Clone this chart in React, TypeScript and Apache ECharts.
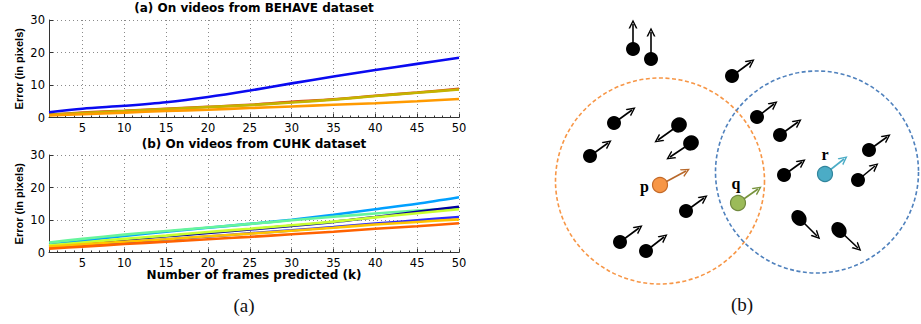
import React, { useEffect, useRef } from "react";
import * as echarts from "echarts";

// ---- chart data ----
const FRAMES = [1, 5, 10, 15, 20, 25, 30, 35, 40, 45, 50];

const BEHAVE_NAMES = ["m1", "m2", "m3", "m4"];
const BEHAVE_COLORS = ["#d8461c", "#c4b400", "#ff9a00", "#0a0af0"];
const BEHAVE_VALUES = [
  [0.9, 1.5, 2.1, 2.7, 3.3, 3.9, 4.8, 5.6, 6.7, 7.7, 8.8],
  [0.8, 1.4, 2.0, 2.6, 3.2, 3.8, 4.6, 5.5, 6.6, 7.6, 8.6],
  [0.6, 1.0, 1.5, 2.0, 2.4, 2.9, 3.4, 3.9, 4.4, 5.0, 5.7],
  [1.6, 2.7, 3.6, 4.7, 6.3, 8.3, 10.5, 12.6, 14.6, 16.5, 18.4],
];

const CUHK_NAMES = ["c1", "c2", "c3", "c4", "c5", "c6", "c7"];
const CUHK_COLORS = ["#00a0ff", "#66f59c", "#0000a0", "#c8ff30", "#2a2aff", "#ffc400", "#ff6200"];
const CUHK_VALUES = [
  [2.4, 3.6, 5.1, 6.4, 7.6, 8.8, 10.1, 11.6, 13.3, 15.0, 17.0],
  [3.1, 4.2, 5.5, 6.6, 7.7, 8.8, 9.9, 11.0, 12.0, 12.9, 13.6],
  [1.8, 2.7, 3.9, 5.0, 6.0, 7.1, 8.2, 9.4, 10.9, 12.5, 14.1],
  [2.2, 3.1, 4.2, 5.2, 6.3, 7.3, 8.4, 9.5, 10.8, 12.1, 13.3],
  [1.5, 2.2, 3.1, 4.0, 4.9, 5.9, 6.8, 7.8, 8.9, 9.9, 10.9],
  [1.8, 2.5, 3.3, 4.1, 5.0, 5.8, 6.7, 7.6, 8.6, 9.4, 10.2],
  [1.2, 1.8, 2.6, 3.3, 4.1, 4.8, 5.6, 6.4, 7.3, 8.1, 9.0],
];

const TITLE_A = "(a) On videos from BEHAVE dataset";
const TITLE_B = "(b) On videos from CUHK dataset";
const Y_NAME = "Error (in pixels)";
const X_NAME = "Number of frames predicted (k)";

// ---- diagram data (page coordinates) ----
const BLACK_DOTS = [
  [633, 49], [651, 59], [732, 76], [614, 123], [679, 125], [691, 143],
  [590, 156], [757, 117], [780, 135], [869, 150], [784, 175], [858, 180],
  [686, 211], [620, 242], [646, 251], [799, 218], [839, 230],
];
const BLACK_TIPS = [
  [633, 24], [651, 32], [751, 62], [632, 110], [658, 140], [670, 157],
  [608, 143], [774, 104], [798, 122], [887, 137], [802, 162], [875, 166],
  [704, 198], [639, 228], [664, 237], [817, 236], [858, 248],
];
const BLACK_SIZES = [
  [14, 14], [14, 14], [14, 14], [14, 14], [16, 15], [16, 15],
  [14, 14], [14, 14], [14, 14], [14, 14], [14, 14], [14, 14],
  [14, 14], [14, 14], [14, 14], [14, 17], [14, 17],
];
const BLACK_ROT = [0, 0, 0, 0, 30, 30, 0, 0, 0, 0, 0, 0, 0, 0, 0, 40, 40];

const SPECIAL_LABELS = ["p", "q", "r"];
const SPECIAL_DOTS = [[660, 185], [738, 203], [825, 174]];
const SPECIAL_TIPS = [[686, 171], [758, 189], [844, 159]];
const SPECIAL_FILL = ["#f79646", "#9bbb59", "#4bacc6"];
const SPECIAL_EDGE = ["#c46a28", "#71893f", "#31859c"];
const SPECIAL_ARROW = ["#b8682a", "#77933c", "#4bacc6"];

const CIRCLE_CENTERS = [[660, 181], [817, 172]];
const CIRCLE_SIZES = [[209, 206], [203, 202]];
const CIRCLE_COLORS = ["#f79646", "#4f81bd"];

const CAPTIONS = ["(a)", "(b)"];

const CHEVRON = "path://M0,10 L5,0 L10,10 L8.2,10 L5,3.4 L1.8,10 Z";

export default function App() {
  const ref = useRef<HTMLDivElement>(null);

  useEffect(() => {
    document.body.style.margin = "0";
    document.body.style.background = "#fff";
    const chart = echarts.init(ref.current!, undefined, { renderer: "svg" });

    const gridTops = [20, 155];
    const plotHeight = 97.5;
    const plotLeft = 49;
    const plotWidth = 410;

    const xAxes: any[] = [0, 1].map((g) => ({
      type: "value",
      gridIndex: g,
      min: 1,
      max: 50,
      splitNumber: 10,
      name: g === 1 ? X_NAME : "",
      nameLocation: "middle",
      nameGap: 16,
      nameTextStyle: { fontFamily: "DejaVu Sans", fontWeight: "bold", fontSize: 12, color: "#000" },
      axisLine: { show: true, onZero: false, lineStyle: { color: "#333", width: 1 } },
      axisTick: { show: true, inside: true, length: 4, lineStyle: { color: "#333" } },
      minorTick: { show: true, splitNumber: 5, length: 2, lineStyle: { color: "#333" } },
      axisLabel: { showMinLabel: false, fontFamily: "DejaVu Sans", fontSize: 11.5, color: "#000", margin: 4 },
      splitLine: { show: true, lineStyle: { type: [1, 3], color: "#8a8a8a", width: 1 } },
    }));
    xAxes.push({ type: "value", gridIndex: 2, min: 530, max: 921, show: false });

    const yAxes: any[] = [0, 1].map((g) => ({
      type: "value",
      gridIndex: g,
      min: 0,
      max: 30,
      interval: 10,
      name: Y_NAME,
      nameLocation: "middle",
      nameGap: 25,
      nameTextStyle: { fontFamily: "Liberation Sans", fontWeight: "bold", fontSize: 11, color: "#000" },
      axisLine: { show: true, lineStyle: { color: "#333", width: 1 } },
      axisTick: { show: true, inside: true, length: 4, lineStyle: { color: "#333" } },
      axisLabel: { fontFamily: "DejaVu Sans", fontSize: 11.5, color: "#000", margin: 4 },
      splitLine: { show: true, lineStyle: { type: [1, 3], color: "#8a8a8a", width: 1 } },
    }));
    yAxes.push({ type: "value", gridIndex: 2, min: 0, max: 324, inverse: true, show: false });

    const series: any[] = [];
    BEHAVE_VALUES.forEach((vals, i) => {
      series.push({
        type: "line",
        name: BEHAVE_NAMES[i],
        xAxisIndex: 0,
        yAxisIndex: 0,
        data: FRAMES.map((k, j) => [k, vals[j]]),
        showSymbol: false,
        smooth: 0.3,
        lineStyle: { color: BEHAVE_COLORS[i], width: 2.6 },
        itemStyle: { color: BEHAVE_COLORS[i] },
        z: 3,
      });
    });
    CUHK_VALUES.forEach((vals, i) => {
      series.push({
        type: "line",
        name: CUHK_NAMES[i],
        xAxisIndex: 1,
        yAxisIndex: 1,
        data: FRAMES.map((k, j) => [k, vals[j]]),
        showSymbol: false,
        smooth: 0.3,
        lineStyle: { color: CUHK_COLORS[i], width: 2.6 },
        itemStyle: { color: CUHK_COLORS[i] },
        z: 3,
      });
    });

    // dashed neighbourhood circles
    series.push({
      type: "scatter",
      xAxisIndex: 2,
      yAxisIndex: 2,
      silent: true,
      z: 1,
      data: CIRCLE_CENTERS.map((c, i) => ({
        value: c,
        symbolSize: CIRCLE_SIZES[i],
        itemStyle: { color: "rgba(0,0,0,0)", opacity: 1, borderColor: CIRCLE_COLORS[i], borderWidth: 1.6, borderType: [4, 2.5] },
      })),
    });

    // arrows
    const arrowData: any[] = BLACK_DOTS.map((d, i) => ({
      coords: [d, BLACK_TIPS[i]],
      lineStyle: { color: "#000" },
    }));
    SPECIAL_DOTS.forEach((d, i) => {
      arrowData.push({ coords: [d, SPECIAL_TIPS[i]], lineStyle: { color: SPECIAL_ARROW[i] } });
    });
    series.push({
      type: "lines",
      coordinateSystem: "cartesian2d",
      xAxisIndex: 2,
      yAxisIndex: 2,
      silent: true,
      z: 2,
      symbol: ["none", CHEVRON],
      symbolSize: 9,
      lineStyle: { width: 1.6, opacity: 1 },
      data: arrowData,
    });

    // black dots
    series.push({
      type: "scatter",
      xAxisIndex: 2,
      yAxisIndex: 2,
      silent: true,
      z: 4,
      data: BLACK_DOTS.map((d, i) => ({
        value: d,
        symbolSize: BLACK_SIZES[i],
        symbolRotate: BLACK_ROT[i],
        itemStyle: { color: "#000", opacity: 1 },
      })),
    });

    // p, q, r
    const labelPos = ["left", "top", "top"];
    const labelOff = [[0, 1], [-2, 0], [0, 0]];
    series.push({
      type: "scatter",
      xAxisIndex: 2,
      yAxisIndex: 2,
      silent: true,
      z: 5,
      data: SPECIAL_DOTS.map((d, i) => ({
        value: d,
        name: SPECIAL_LABELS[i],
        symbolSize: 15,
        itemStyle: { color: SPECIAL_FILL[i], opacity: 1, borderColor: SPECIAL_EDGE[i], borderWidth: 1.2 },
        label: {
          show: true,
          formatter: SPECIAL_LABELS[i],
          position: labelPos[i],
          distance: 3,
          offset: labelOff[i],
          fontFamily: "Liberation Serif",
          fontWeight: "bold",
          fontSize: 16,
          color: "#000",
        },
      })),
    });

    chart.setOption({
      animation: false,
      backgroundColor: "#fff",
      grid: [
        { left: plotLeft, top: gridTops[0], width: plotWidth, height: plotHeight },
        { left: plotLeft, top: gridTops[1], width: plotWidth, height: plotHeight },
        { left: 530, top: 0, width: 391, height: 324 },
      ],
      xAxis: xAxes,
      yAxis: yAxes,
      series,
      graphic: [
        {
          type: "text",
          x: 254,
          y: 8,
          style: { text: TITLE_A, fontFamily: "DejaVu Sans", fontWeight: "bold", fontSize: 12, fill: "#000", textAlign: "center", textVerticalAlign: "middle" },
        },
        {
          type: "text",
          x: 254,
          y: 144,
          style: { text: TITLE_B, fontFamily: "DejaVu Sans", fontWeight: "bold", fontSize: 12, fill: "#000", textAlign: "center", textVerticalAlign: "middle" },
        },
        {
          type: "text",
          x: 244,
          y: 305,
          style: { text: CAPTIONS[0], fontFamily: "Liberation Serif", fontSize: 19, fill: "#111", textAlign: "center", textVerticalAlign: "middle" },
        },
        {
          type: "text",
          x: 742,
          y: 304,
          style: { text: CAPTIONS[1], fontFamily: "Liberation Serif", fontSize: 19, fill: "#111", textAlign: "center", textVerticalAlign: "middle" },
        },
      ],
    });

    return () => chart.dispose();
  }, []);

  return <div ref={ref} style={{ width: 921, height: 324 }} />;
}
